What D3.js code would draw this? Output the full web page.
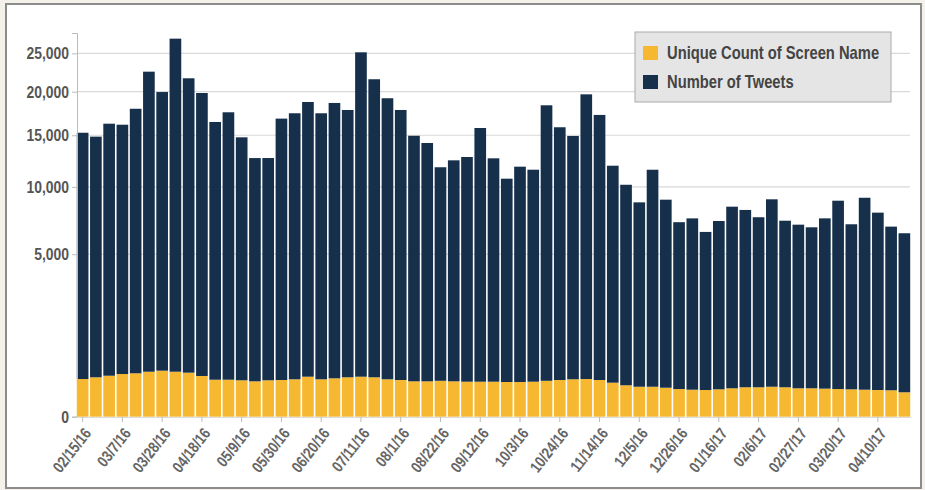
<!DOCTYPE html>
<html>
<head>
<meta charset="utf-8">
<script src="https://cdn.jsdelivr.net/npm/d3@7"></script>
<style>
  html, body { margin: 0; padding: 0; background: #f4f1ea; }
  svg { display: block; }
  .axis text, .legend text {
    font-family: "Liberation Sans Narrow", "Liberation Sans", sans-serif;
    font-weight: bold; fill: #555;
  }
</style>
</head>
<body>
<svg id="chart" width="925" height="490"></svg>
<script>
// weekly buckets (week starting Monday)
const weeks = [
  "2016-02-15","2016-02-22","2016-02-29","2016-03-07","2016-03-14","2016-03-21","2016-03-28",
  "2016-04-04","2016-04-11","2016-04-18","2016-04-25","2016-05-02","2016-05-09","2016-05-16",
  "2016-05-23","2016-05-30","2016-06-06","2016-06-13","2016-06-20","2016-06-27","2016-07-04",
  "2016-07-11","2016-07-18","2016-07-25","2016-08-01","2016-08-08","2016-08-15","2016-08-22",
  "2016-08-29","2016-09-05","2016-09-12","2016-09-19","2016-09-26","2016-10-03","2016-10-10",
  "2016-10-17","2016-10-24","2016-10-31","2016-11-07","2016-11-14","2016-11-21","2016-11-28",
  "2016-12-05","2016-12-12","2016-12-19","2016-12-26","2017-01-02","2017-01-09","2017-01-16",
  "2017-01-23","2017-01-30","2017-02-06","2017-02-13","2017-02-20","2017-02-27","2017-03-06",
  "2017-03-13","2017-03-20","2017-03-27","2017-04-03","2017-04-10","2017-04-17","2017-04-24"
];

// Unique Count of Screen Name
const uniqueNames = [
  269, 294, 318, 345, 357, 383, 401, 383, 367, 314, 259, 259, 251, 237, 251, 255, 265, 303, 265, 279, 294,
  303, 294, 265, 255, 237, 237, 244, 237, 232, 232, 232, 228, 228, 232, 244, 255, 265, 269, 255, 219, 187,
  170, 170, 159, 145, 138, 135, 142, 153, 164, 164, 170, 164, 153, 153, 149, 145, 142, 138, 135, 132, 113
];

// Number of Tweets
const tweets = [
  15000, 14560, 15940, 15800, 17600, 22160, 19560, 26680, 21320, 19530, 16190, 17290, 14530, 12430, 12420,
  16570, 17170, 18450, 17170, 18360, 17520, 24840, 21270, 18940, 17560, 14710, 13950, 11540, 12210, 12540,
  15550, 12410, 10500, 11610, 11320, 18120, 15610, 14660, 19410, 16990, 11710, 10000, 8530, 11380, 8760,
  7020, 7310, 6330, 7110, 8200, 7930, 7370, 8780, 7110, 6830, 6640, 7300, 8690, 6870, 8940, 7750, 6710, 6260
];

const yTicks = [0, 5000, 10000, 15000, 20000, 25000];
const seriesNames = ["Unique Count of Screen Name", "Number of Tweets"];
const seriesColors = ["#f6b830", "#16304b"];

const squeeze = 0.82; // fake a condensed face by squeezing the text horizontally

const svg = d3.select("#chart");

// card background + frame
svg.append("rect")
  .attr("x", 6).attr("y", 4).attr("width", 915).attr("height", 484)
  .attr("fill", "#fff").attr("stroke", "#8c8c8c").attr("stroke-width", 2);

const rows = weeks.map((w, i) => ({ week: w, unique: uniqueNames[i], tweets: tweets[i] }));
const stacked = d3.stack().keys(["unique", "tweets"])(rows);

const x = d3.scaleBand()
  .domain(weeks)
  .range([76, 911])
  .paddingInner(0.12)
  .paddingOuter(0.06);

const y = d3.scaleSqrt()
  .domain([0, 27880])
  .range([416.7, 33]);

// gridlines
svg.append("g")
  .selectAll("line")
  .data(yTicks.filter(d => d > 0))
  .join("line")
  .attr("x1", 77).attr("x2", 910)
  .attr("y1", d => y(d)).attr("y2", d => y(d))
  .attr("stroke", "#d9d9d9").attr("stroke-width", 1.2);

// bars
svg.append("g")
  .selectAll("g")
  .data(stacked)
  .join("g")
  .attr("fill", (d, i) => seriesColors[i])
  .selectAll("rect")
  .data(d => d)
  .join("rect")
  .attr("x", d => x(d.data.week))
  .attr("width", x.bandwidth())
  .attr("y", d => y(d[1]))
  .attr("height", d => y(d[0]) - y(d[1]));

// y axis
const yAxis = svg.append("g")
  .attr("class", "axis")
  .attr("transform", "translate(77,0)")
  .call(d3.axisLeft(y).tickValues(yTicks).tickFormat(d3.format(",")).tickSize(5).tickPadding(3));
yAxis.selectAll("path, line").attr("stroke", "#bbb");
yAxis.selectAll("text")
  .style("font-size", "17px")
  .style("fill", "#555")
  .attr("x", -8 / squeeze)
  .attr("transform", `scale(${squeeze},1)`);

// x axis
const parseDay = d3.timeParse("%Y-%m-%d");
const fmtDay = d3.timeFormat("%m/%-d/%y");
const xAxis = svg.append("g")
  .attr("class", "axis")
  .attr("transform", "translate(0,417)")
  .call(d3.axisBottom(x)
    .tickValues(weeks.filter((d, i) => i % 3 === 0))
    .tickFormat(d => fmtDay(parseDay(d)))
    .tickSize(5)
    .tickSizeOuter(0));
xAxis.select(".domain").attr("stroke", "#ddd");
xAxis.selectAll("line").attr("stroke", "#bbb");
xAxis.selectAll("text")
  .style("font-size", "16px")
  .style("fill", "#666")
  .attr("text-anchor", "end")
  .attr("x", 0).attr("y", 0).attr("dy", "0.35em")
  .attr("transform", `translate(5,13) rotate(-52) scale(${squeeze},1)`);

// legend
const legend = svg.append("g").attr("class", "legend").attr("transform", "translate(635,32)");
legend.append("rect")
  .attr("width", 256).attr("height", 70)
  .attr("fill", "#e5e5e5").attr("stroke", "#aaa").attr("stroke-width", 1);
seriesNames.forEach((name, i) => {
  const row = legend.append("g").attr("transform", `translate(8,${14 + i * 29})`);
  row.append("rect").attr("width", 15).attr("height", 14).attr("fill", seriesColors[i]);
  row.append("text")
    .attr("y", 7).attr("dy", "0.36em")
    .attr("transform", `translate(24,0) scale(${squeeze},1)`)
    .style("font-size", "18px")
    .style("fill", "#444")
    .text(name);
});
</script>
</body>
</html>
